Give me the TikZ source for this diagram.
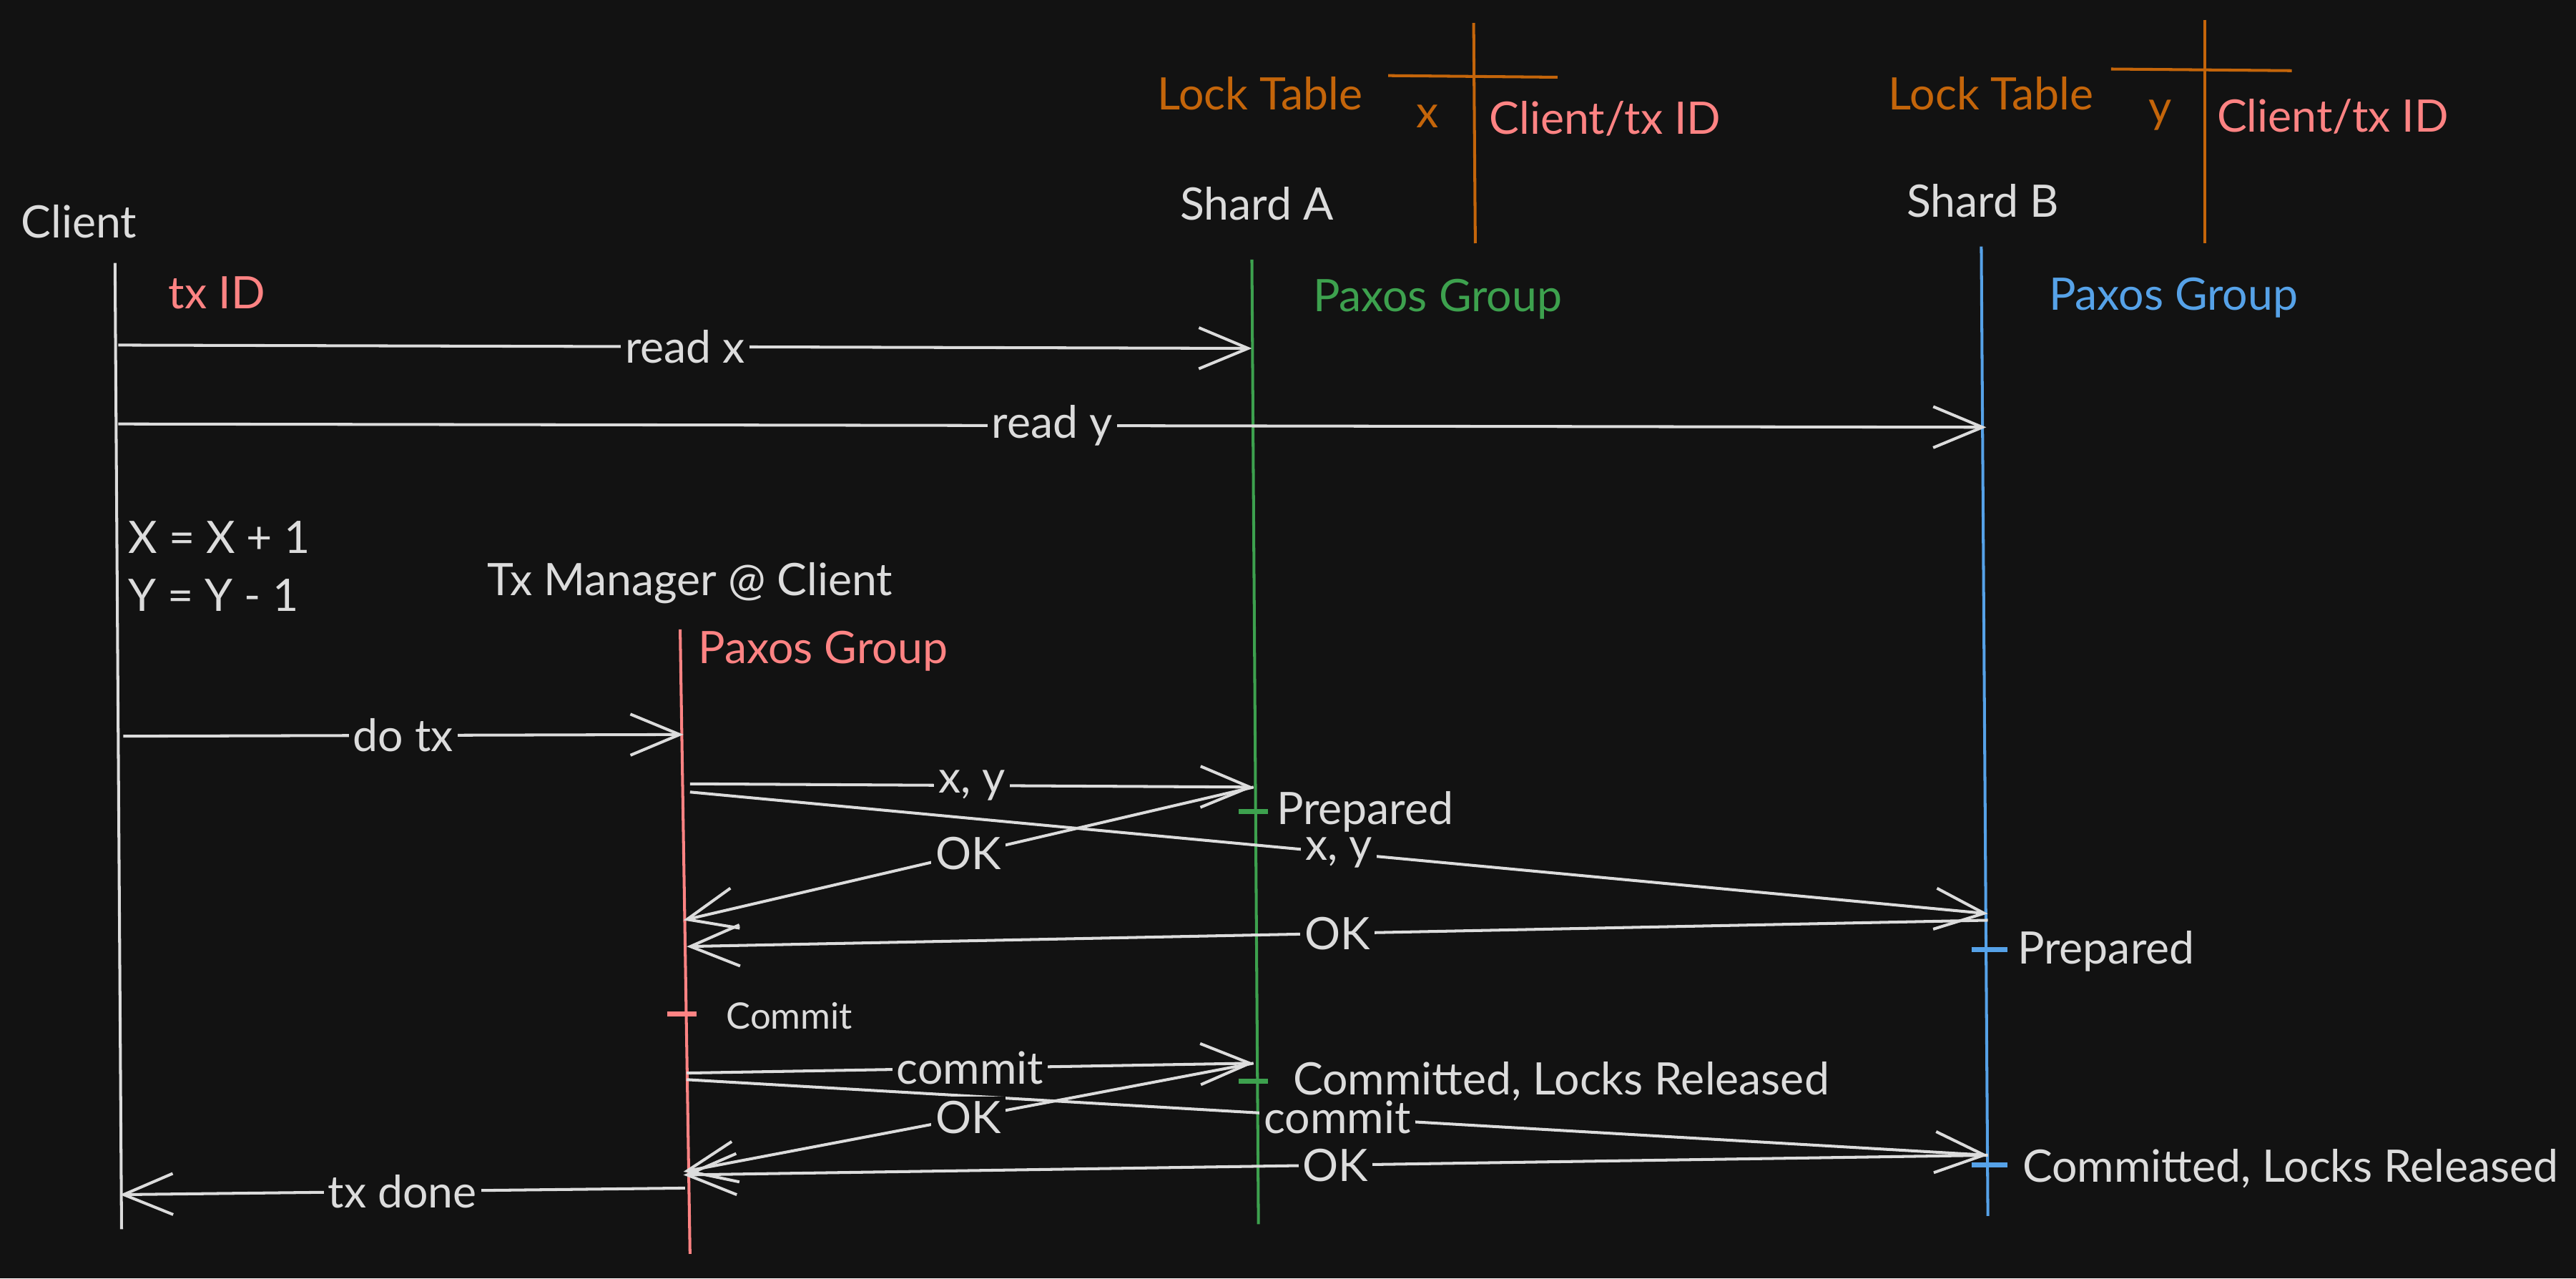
\documentclass[tikz,border=0pt]{standalone}
\usepackage{fontspec}
\setmainfont{Lato}
\usetikzlibrary{arrows.meta}
\definecolor{bg}{HTML}{121212}
\definecolor{ink}{HTML}{DCDCDC}
\definecolor{lockorange}{HTML}{C4650A}
\definecolor{txpink}{HTML}{FF8383}
\definecolor{shardgreen}{HTML}{3DA14E}
\definecolor{shardblue}{HTML}{56A2E8}
\tikzset{
  lbl/.style={text=ink, font=\fontsize{15.5}{18}\selectfont, inner sep=1pt},
  smalllbl/.style={lbl, font=\fontsize{12.6}{15}\selectfont},
  msg/.style={draw=ink, line width=1pt,
    -{Straight Barb[length=6mm,width=5mm,line width=1pt]}},
  msglbl/.style={lbl, fill=bg, inner sep=1.5pt},
  life/.style={line width=1pt},
  tick/.style={line width=1.8pt},
}
\begin{document}
\begin{tikzpicture}[x=0.02cm,y=-0.02cm]
  \fill[bg] (0,0) rectangle (1568,778);
  \useasboundingbox (0,0) rectangle (1568,778);

  % participants
  \node[lbl] (client) at (48,135) {Client};
  \node[lbl] (shardA) at (765,124) {Shard A};
  \node[lbl] (shardB) at (1207,122) {Shard B};
  \node[lbl] (txmgr) at (420,355) {Tx Manager @ Client};

  \node[lbl, text=txpink] (txid) at (132,178) {tx ID};
  \node[lbl, text=shardgreen] (paxosA) at (875,182) {Paxos Group};
  \node[lbl, text=shardblue] (paxosB) at (1323,181) {Paxos Group};
  \node[lbl, text=txpink] (paxosT) at (501,396) {Paxos Group};

  \node[lbl, anchor=west] (incX) at (76,327) {X = X + 1};
  \node[lbl, anchor=west] (decY) at (76,362) {Y = Y - 1};

  % lock tables
  \node[lbl, text=lockorange] (lockA) at (767,57) {Lock Table};
  \node[lbl, text=lockorange] (keyA) at (869,71) {x};
  \node[lbl, text=txpink] (ownerA) at (977,72) {Client/tx ID};
  \draw[lockorange, line width=1pt] (845,46) -- (948,47);
  \draw[lockorange, line width=1pt] (897,14) -- (898,148);

  \node[lbl, text=lockorange] (lockB) at (1212,57) {Lock Table};
  \node[lbl, text=lockorange] (keyB) at (1315,70) {y};
  \node[lbl, text=txpink] (ownerB) at (1420,71) {Client/tx ID};
  \draw[lockorange, line width=1pt] (1285,42) -- (1395,43);
  \draw[lockorange, line width=1pt] (1342,12) -- (1342,148);

  % lifelines
  \coordinate (cTop) at (70,160);   \coordinate (cBot) at (74,748);
  \coordinate (tTop) at (414,383);  \coordinate (tBot) at (420,763);
  \coordinate (aTop) at (762,158);  \coordinate (aBot) at (766,745);
  \coordinate (bTop) at (1206,150); \coordinate (bBot) at (1210,740);
  \draw[life, ink] (cTop) -- (cBot);
  \draw[life, txpink] (tTop) -- (tBot);
  \draw[life, shardgreen] (aTop) -- (aBot);
  \draw[life, shardblue] (bTop) -- (bBot);

  % message ends
  \coordinate (c1) at (72,210);   \coordinate (a1) at (762,212);
  \coordinate (c2) at (72,258);   \coordinate (b1) at (1209,260);
  \coordinate (c3) at (75,448);   \coordinate (t1) at (416,447);
  \coordinate (t2) at (420,477);  \coordinate (a2) at (763,479);
  \coordinate (t3) at (420,482);  \coordinate (b2) at (1210,556);
  \coordinate (t4) at (416,560);
  \coordinate (b3) at (1210,560); \coordinate (t5) at (418,576);
  \coordinate (t6) at (418,653);  \coordinate (a3) at (763,647);
  \coordinate (t7) at (418,657);  \coordinate (b4) at (1210,703);
  \coordinate (t8) at (416,713);  \coordinate (t9) at (416,715);
  \coordinate (t10) at (417,723); \coordinate (c4) at (73,727);

  % reads
  \draw[msg] (c1) -- (a1) node[msglbl, midway] {read x};
  \draw[msg] (c2) -- (b1) node[msglbl, midway] {read y};
  \draw[msg] (c3) -- (t1) node[msglbl, midway] {do tx};

  % prepare
  \draw[msg] (t2) -- (a2) node[msglbl, midway] {x, y};
  \draw[msg] (t3) -- (b2) node[msglbl, midway] {x, y};
  \draw[msg] (a2) -- (t4) node[msglbl, midway] {OK};
  \draw[msg] (b3) -- (t5) node[msglbl, midway] {OK};
  \draw[tick, shardgreen] (754,494) -- (772,494);
  \node[lbl, anchor=west] (prepA) at (775,494) {Prepared};
  \draw[tick, shardblue] (1200,578) -- (1222,578);
  \node[lbl, anchor=west] (prepB) at (1226,579) {Prepared};

  % commit
  \draw[tick, txpink] (406,617) -- (424,617);
  \node[smalllbl, anchor=west] (commitT) at (440,618) {Commit};
  \draw[msg] (t6) -- (a3) node[msglbl, midway] {commit};
  \draw[msg] (t7) -- (b4) node[msglbl, midway] {commit};
  \draw[msg] (a3) -- (t8) node[msglbl, midway] {OK};
  \draw[msg] (b4) -- (t9) node[msglbl, midway] {OK};
  \draw[tick, shardgreen] (754,658) -- (772,658);
  \node[lbl, anchor=west] (doneA) at (785,658) {Committed, Locks Released};
  \draw[tick, shardblue] (1200,709) -- (1222,709);
  \node[lbl, anchor=west] (doneB) at (1229,711) {Committed, Locks Released};

  \draw[msg] (t10) -- (c4) node[msglbl, midway] {tx done};
\end{tikzpicture}
\end{document}
